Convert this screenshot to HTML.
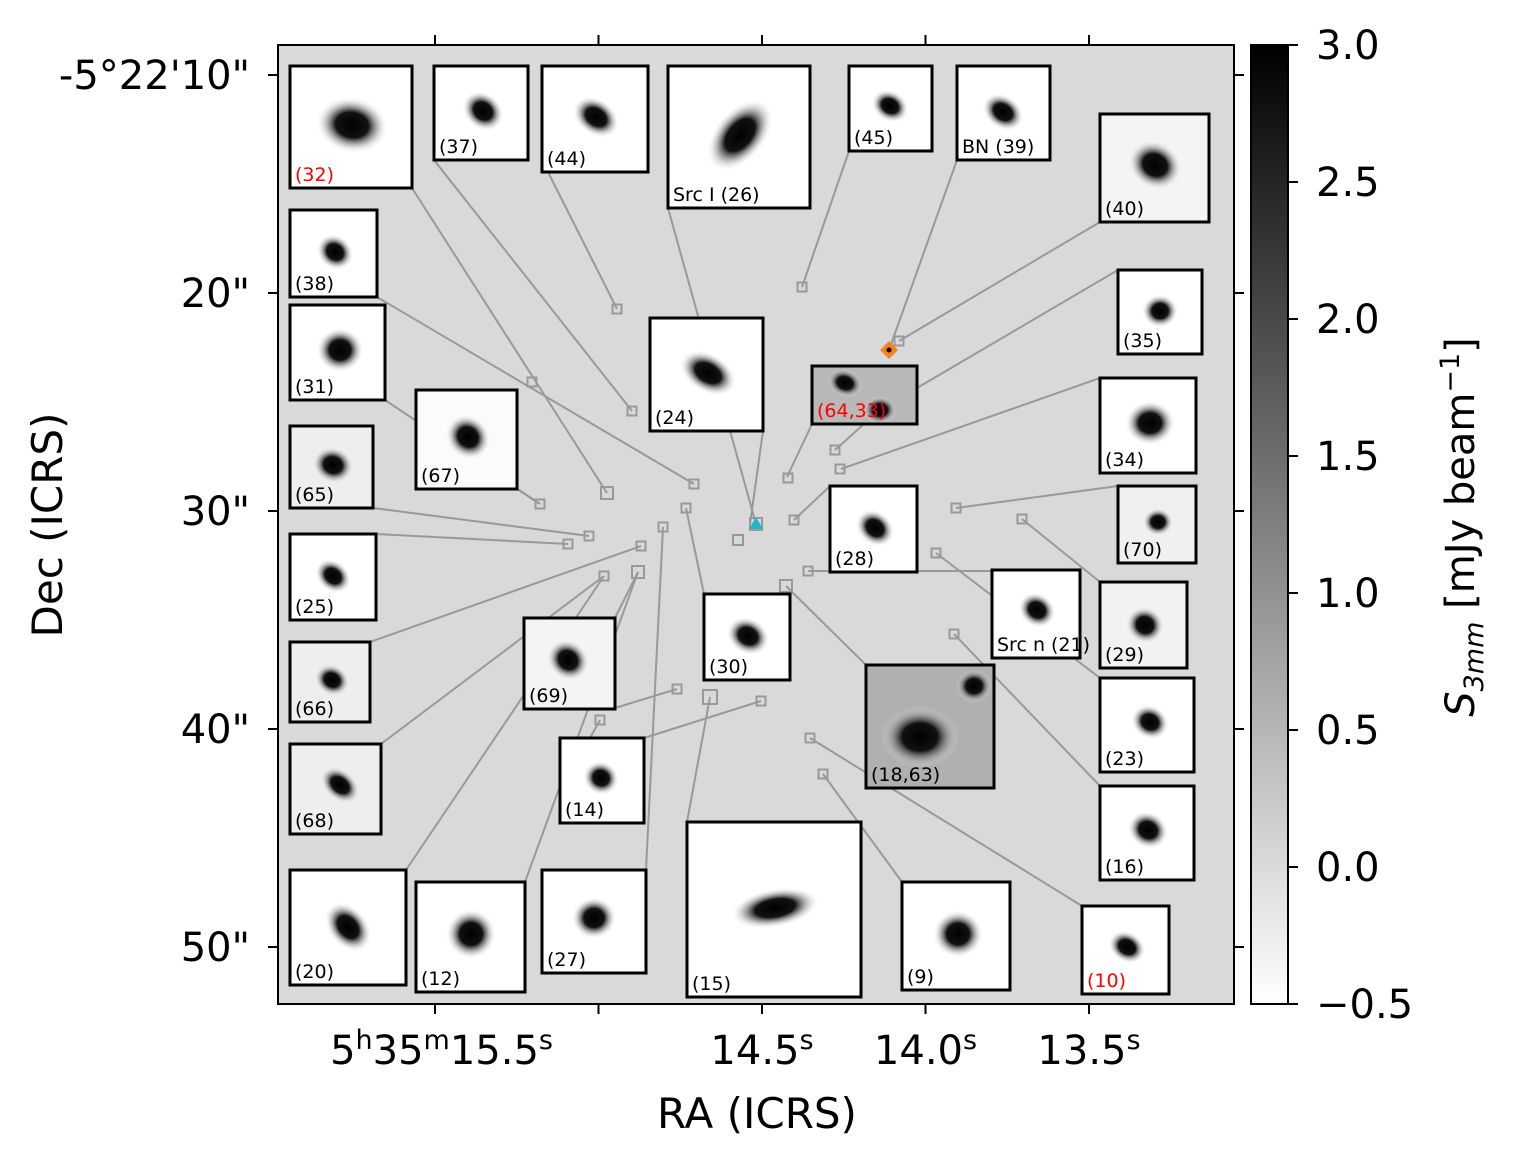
<!DOCTYPE html>
<html><head><meta charset="utf-8"><style>
body{margin:0;background:#fff}
svg{display:block;font-family:"DejaVu Sans","Liberation Sans",sans-serif}
</style></head><body>
<svg id="fig" width="1515" height="1168" viewBox="0 0 1515 1168" xmlns="http://www.w3.org/2000/svg">
<defs>
<linearGradient id="cbg" x1="0" y1="1" x2="0" y2="0">
<stop offset="0" stop-color="#ffffff"/><stop offset="1" stop-color="#000000"/></linearGradient>
<radialGradient id="blob"><stop offset="0" stop-color="#000"/><stop offset="0.45" stop-color="#111"/><stop offset="1" stop-color="#fff" stop-opacity="0"/></radialGradient>
</defs>
<rect x="278" y="45" width="956" height="959" fill="#d9d9d9"/>
<g id="lines"></g><g id="markers"></g><g id="insets"></g>
<rect x="278" y="45" width="956" height="959" fill="none" stroke="#000" stroke-width="2"/>
<g id="axes"></g>
<text x="757" y="1128" font-size="42" text-anchor="middle">RA (ICRS)</text>
<text transform="translate(62,525) rotate(-90)" font-size="42" text-anchor="middle">Dec (ICRS)</text>
<rect x="1251" y="45" width="37" height="959" fill="url(#cbg)" stroke="#000" stroke-width="2"/>
<g id="cbaxis"></g>
<text transform="translate(1474,527) rotate(-90)" font-size="40" text-anchor="middle"><tspan font-style="italic">S</tspan><tspan font-size="27" dy="9" font-style="italic">3mm</tspan><tspan dy="-9"> [mJy beam</tspan><tspan font-size="27" dy="-15">−1</tspan><tspan dy="15">]</tspan></text>
<g id="special"></g>
</svg>
<script>
const yTickLabels=["-5°22'10\"","20\"","30\"","40\"","50\""];
const yTickVals=[10,20,30,40,50];
const xTickVals=[15.5,15.0,14.5,14.0,13.5];
const xTickLabels=["5h35m15.5s","","14.5s","14.0s","13.5s"];
const cbTicks=[3.0,2.5,2.0,1.5,1.0,0.5,0.0,-0.5];
const cbLabels=["3.0","2.5","2.0","1.5","1.0","0.5","0.0","−0.5"];
const insetBoxes=[
[290,66,122,122,"(32)","red","#fff"],[434,66,94,94,"(37)","#000","#fff"],[542,66,106,106,"(44)","#000","#fff"],
[668,66,142,142,"Src I (26)","#000","#fff"],[849,66,83,85,"(45)","#000","#fff"],[957,66,93,94,"BN (39)","#000","#fff"],
[1100,114,109,108,"(40)","#000","#f4f4f4"],[290,210,87,87,"(38)","#000","#fff"],[290,305,95,95,"(31)","#000","#fff"],
[416,390,101,99,"(67)","#000","#fbfbfb"],[290,426,83,82,"(65)","#000","#eee"],[290,534,86,86,"(25)","#000","#fff"],
[290,642,80,80,"(66)","#000","#eee"],[290,744,91,90,"(68)","#000","#eee"],[290,870,116,115,"(20)","#000","#fff"],
[416,882,109,110,"(12)","#000","#fff"],[542,870,104,103,"(27)","#000","#fff"],[687,822,174,175,"(15)","#000","#fff"],
[902,882,108,108,"(9)","#000","#fff"],[1082,906,87,88,"(10)","red","#fff"],[1100,786,94,94,"(16)","#000","#fff"],
[1100,678,94,94,"(23)","#000","#fff"],[1100,582,87,86,"(29)","#000","#f2f2f2"],[992,570,88,88,"Src n (21)","#000","#fff"],
[1118,486,78,77,"(70)","#000","#f0f0f0"],[1100,378,96,95,"(34)","#000","#fff"],[1118,270,84,84,"(35)","#000","#fff"],
[812,366,105,58,"(64,33)","red","#b8b8b8"],[830,486,87,86,"(28)","#000","#fff"],[650,318,113,113,"(24)","#000","#fff"],
[704,594,86,86,"(30)","#000","#fff"],[560,738,84,85,"(14)","#000","#fff"],[524,618,91,91,"(69)","#000","#f4f4f4"],
[866,665,128,123,"(18,63)","#000","#b0b0b0"]];
const blobs=[
[352,125,26,20,10],[483,111,16,13,40],[596,117,18,13,35],[740,135,18,30,40],[890,106,14,11,30],[1003,112,16,12,35],
[1155,165,20,17,30],[335,252,14,12,40],[340,350,17,16,0],[468,437,17,15,45],[333,465,15,13,20],[333,576,14,11,40],
[332,680,13,11,30],[340,785,16,11,40],[348,927,14,20,-40],[471,934,18,18,0],[594,918,16,15,0],[775,908,32,14,-10],
[958,934,18,17,0],[1127,947,14,11,30],[1148,830,15,13,30],[1150,722,14,12,30],[1145,625,14,13,30],[1037,610,14,12,35],
[1158,522,11,10,0],[1150,423,18,16,0],[1160,311,13,12,0],[845,383,13,10,20],[880,410,12,10,0],[875,528,15,12,40],
[708,373,22,14,30],[748,636,16,13,30],[601,778,13,12,30],[568,660,16,14,40],[920,737,28,22,0],[974,686,13,12,0]];
const leaders=[
[412,188,607,493],[434,160,632,411],[548,172,617,309],[668,208,756,524],[849,151,802,287],[957,160,889,350],
[1100,222,899,341],[377,297,694,484],[385,400,540,504],[517,489,540,504],[373,508,589,536],[376,534,568,544],
[370,642,641,546],[381,744,604,576],[406,870,604,576],[525,882,638,572],[615,618,638,572],[646,870,663,527],
[687,822,710,697],[902,882,823,774],[1082,906,810,738],[1100,786,954,634],[1100,678,936,553],[1100,582,1022,519],
[808,571,992,571],[1118,486,956,508],[1100,378,841,469],[917,388,1118,270],[812,424,787,477],[864,424,835,450],
[830,486,794,520],[763,431,750,524],[704,594,686,508],[590,738,600,720],[644,738,761,701],[615,708,677,689],[866,665,786,586]];
const markerPts=[[617,309,9],[802,287,9],[899,341,9],[532,382,9],[632,411,9],[694,484,9],[607,493,12],[540,504,9],
[568,544,9],[589,536,9],[641,546,9],[604,576,9],[638,572,12],[686,508,9],[663,527,9],[738,540,10],[756,524,12],
[788,478,9],[835,450,9],[840,469,9],[794,520,9],[808,571,9],[786,586,12],[936,553,9],[956,508,9],[1022,519,9],
[954,634,9],[677,689,9],[710,697,14],[761,701,9],[600,720,9],[810,738,9],[823,774,9]];
const NS="http://www.w3.org/2000/svg";
function mk(t,a,p){const e=document.createElementNS(NS,t);for(const k in a)e.setAttribute(k,a[k]);p.appendChild(e);return e;}
const yPix=v=>75+(v-10)*21.8;
const xPix=v=>762-(v-14.5)*327;
const cbPix=v=>867-v*274;
const ax=document.getElementById('axes');
yTickVals.forEach((v,i)=>{const y=yPix(v);
 let t=mk('line',{x1:278,y1:y,x2:268,y2:y,stroke:'#000','stroke-width':2},ax);
 
 
 t=mk('line',{x1:1234,y1:y,x2:1244,y2:y,stroke:'#000','stroke-width':2},ax);
 
 
 const l=mk('text',{x:250,y:y+14,'font-size':40,'text-anchor':'end'},ax);l.textContent=yTickLabels[i];
 
 
});
xTickVals.forEach((v,i)=>{const x=xPix(v);
 let t=mk('line',{x1:x,y1:1004,x2:x,y2:1014,stroke:'#000','stroke-width':2},ax);
 
 
 t=mk('line',{x1:x,y1:45,x2:x,y2:35,stroke:'#000','stroke-width':2},ax);
 
 
 if(!xTickLabels[i])return;
 const l=mk('text',{x:x,y:1064,'font-size':40,'text-anchor':i==0?'end':'middle'},ax);
 
 
 if(i==0){l.setAttribute('x',x+118);l.innerHTML='5<tspan font-size="27" dy="-15">h</tspan><tspan dy="15">35</tspan><tspan font-size="27" dy="-15">m</tspan><tspan dy="15">15.5</tspan><tspan font-size="27" dy="-15">s</tspan>';}
 else{const s=xTickLabels[i].slice(0,-1);l.innerHTML=s+'<tspan font-size="27" dy="-15">s</tspan>';}
});
const cb=document.getElementById('cbaxis');
cbTicks.forEach((v,i)=>{const y=cbPix(v);
 const t=mk('line',{x1:1288,y1:y,x2:1298,y2:y,stroke:'#000','stroke-width':2},cb);
 
 
 const l=mk('text',{x:1316,y:y+14,'font-size':40},cb);l.textContent=cbLabels[i];
 
 
});
const L=document.getElementById('lines');
leaders.forEach(s=>{const e=mk('line',{x1:s[0],y1:s[1],x2:s[2],y2:s[3],stroke:'#999','stroke-width':2},L);
 
 });
const M=document.getElementById('markers');
markerPts.forEach(p=>{const e=mk('rect',{x:p[0]-p[2]/2,y:p[1]-p[2]/2,width:p[2],height:p[2],fill:'none',stroke:'#999','stroke-width':2},M);
 
 });
const I=document.getElementById('insets');
insetBoxes.forEach(b=>{const g=mk('g',{},I);
 
 
 mk('rect',{x:b[0],y:b[1],width:b[2],height:b[3],fill:b[6]},g);
 g._b=b;});
const gs=[...I.children];
blobs.forEach(bl=>{const g=gs.find(gg=>{const b=gg._b;return bl[0]>b[0]&&bl[0]<b[0]+b[2]&&bl[1]>b[1]&&bl[1]<b[1]+b[3];})||I;
 const e=mk('ellipse',{cx:bl[0],cy:bl[1],rx:bl[2]*1.4,ry:bl[3]*1.4,fill:'url(#blob)',transform:`rotate(${bl[4]} ${bl[0]} ${bl[1]})`},g);
 
 });
gs.forEach(g=>{const b=g._b;
 mk('rect',{x:b[0],y:b[1],width:b[2],height:b[3],fill:'none',stroke:'#000','stroke-width':3},g);
 const t=mk('text',{x:b[0]+5,y:b[1]+b[3]-7,'font-size':19,fill:b[5]},g);t.textContent=b[4];
 
 });
const S=document.getElementById('special');
let e=mk('path',{d:'M889,341 L898,350 L889,359 L880,350 Z',fill:'#f58220'},S);


e=mk('circle',{cx:889,cy:350,r:2.5,fill:'#000'},S);


e=mk('path',{d:'M756,517 L763,529 L749,529 Z',fill:'#1fb8c8'},S);


</script>
</body></html>
